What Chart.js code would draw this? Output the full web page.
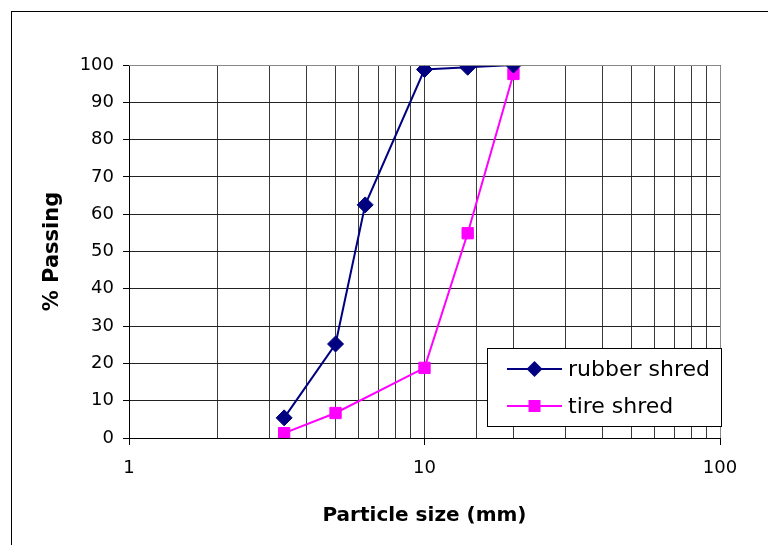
<!DOCTYPE html>
<html>
<head>
<meta charset="utf-8">
<script src="https://cdn.jsdelivr.net/npm/chart.js@4"></script>
<style>
  html, body { margin: 0; padding: 0; background: #fff; }
  #wrap { width: 768px; height: 545px; }
</style>
</head>
<body>
<div id="wrap"><canvas id="myChart" width="768" height="545"></canvas></div>
<script>
// sieve sizes (mm) and % passing
var rubberSize = [3.35, 5, 6.3, 10, 14, 20];
var rubberPassing = [5.4, 25.2, 62.5, 98.8, 99.4, 100];
var tireSize = [3.35, 5, 10, 14, 20];
var tirePassing = [1.3, 6.7, 18.8, 54.9, 97.6];
var xLabels = [1, 10, 100];
var yTicks = [0, 10, 20, 30, 40, 50, 60, 70, 80, 90, 100];

function toPoints(xs, ys) {
    var pts = [];
    for (var i = 0; i < xs.length; i++) pts.push({x: xs[i], y: ys[i]});
    return pts;
}

// outer frame of the chart sheet
var framePlugin = {
    id: 'frame',
    beforeDraw: function(chart) {
        var ctx = chart.ctx;
        ctx.save();
        ctx.fillStyle = '#fff';
        ctx.fillRect(0, 0, chart.width, chart.height);
        ctx.strokeStyle = '#000';
        ctx.lineWidth = 1;
        ctx.strokeRect(11.5, 11.5, chart.width + 20, chart.height + 20);
        ctx.restore();
    },
    afterDatasetsDraw: function(chart) {
        // gray border on top and right of the plot
        var a = chart.chartArea, ctx = chart.ctx;
        ctx.save();
        ctx.strokeStyle = '#888';
        ctx.lineWidth = 1;
        ctx.beginPath();
        ctx.moveTo(a.left, a.top + 0.5);
        ctx.lineTo(a.right + 0.5, a.top + 0.5);
        ctx.lineTo(a.right + 0.5, a.bottom);
        ctx.stroke();
        ctx.restore();
    }
};

// legend box in the lower right of the plot
var legendBox = {
    id: 'legendBox',
    afterDraw: function(chart) {
        var a = chart.chartArea, ctx = chart.ctx;
        var w = 234, h = 78;
        var x0 = a.right + 1 - w, y0 = a.bottom - 12 - h;
        ctx.save();
        ctx.fillStyle = '#fff';
        ctx.fillRect(x0, y0, w, h);
        ctx.strokeStyle = '#000';
        ctx.lineWidth = 1;
        ctx.strokeRect(Math.round(x0) + 0.5, Math.round(y0) + 0.5, w, h);
        ctx.font = '22px "DejaVu Sans"';
        ctx.textBaseline = 'middle';
        chart.data.datasets.forEach(function(ds, i) {
            var cy = y0 + 21 + i * 37;
            var lx = x0 + 20, rx = x0 + 75, mx = (lx + rx) / 2;
            ctx.strokeStyle = ds.borderColor;
            ctx.lineWidth = 2;
            ctx.beginPath();
            ctx.moveTo(lx, cy);
            ctx.lineTo(rx, cy);
            ctx.stroke();
            ctx.fillStyle = ds.backgroundColor;
            ctx.beginPath();
            if (ds.pointStyle === 'rectRot') {
                var r = 8;
                ctx.moveTo(mx, cy - r);
                ctx.lineTo(mx + r, cy);
                ctx.lineTo(mx, cy + r);
                ctx.lineTo(mx - r, cy);
                ctx.closePath();
            } else {
                ctx.rect(mx - 6, cy - 6, 12, 12);
            }
            ctx.fill();
            ctx.fillStyle = '#000';
            ctx.fillText(ds.label, x0 + 81, cy + 1);
        });
        ctx.restore();
    }
};

const ctx = document.getElementById('myChart');
const myChart = new Chart(ctx, {
    type: 'line',
    data: {
        datasets: [{
            label: 'rubber shred',
            data: toPoints(rubberSize, rubberPassing),
            borderColor: '#000080',
            backgroundColor: '#000080',
            borderWidth: 2,
            pointStyle: 'rectRot',
            pointRadius: 8,
            pointBorderWidth: 1,
            tension: 0
        }, {
            label: 'tire shred',
            data: toPoints(tireSize, tirePassing),
            borderColor: '#FF00FF',
            backgroundColor: '#FF00FF',
            borderWidth: 2,
            pointStyle: 'rect',
            pointRadius: 8,
            pointBorderWidth: 1,
            tension: 0
        }]
    },
    plugins: [framePlugin, legendBox],
    options: {
        responsive: false,
        animation: false,
        layout: { padding: { left: 30, top: 65, right: 48, bottom: 10 } },
        plugins: { legend: { display: false }, tooltip: { enabled: false } },
        scales: {
            x: {
                type: 'logarithmic',
                min: 1,
                max: 100,
                afterFit: function(scale) { scale.height = 97; },
                title: {
                    display: true,
                    text: 'Particle size (mm)',
                    color: '#000',
                    font: { family: 'DejaVu Sans', size: 20, weight: 'bold' },
                    padding: { top: 0, bottom: 7 }
                },
                ticks: {
                    autoSkip: false,
                    maxRotation: 0,
                    color: '#000',
                    padding: 13,
                    font: { family: 'DejaVu Sans', size: 18 },
                    callback: function(v) { return xLabels.indexOf(v) >= 0 ? String(v) : ''; }
                },
                grid: {
                    color: '#3a3a3a',
                    lineWidth: 1,
                    tickLength: 7,
                    tickColor: function(c) {
                        return c.tick && xLabels.indexOf(c.tick.value) >= 0 ? '#000' : 'rgba(0,0,0,0)';
                    }
                },
                border: { color: '#000', width: 1 }
            },
            y: {
                min: 0,
                max: 100,
                afterFit: function(scale) { scale.width = 99; },
                afterBuildTicks: function(scale) {
                    scale.ticks = yTicks.map(function(v) { return {value: v}; });
                },
                title: {
                    display: true,
                    text: '% Passing',
                    color: '#000',
                    font: { family: 'DejaVu Sans', size: 21, weight: 'bold' },
                    padding: { top: 10, bottom: 0 }
                },
                ticks: {
                    color: '#000',
                    padding: 9,
                    font: { family: 'DejaVu Sans', size: 18 }
                },
                grid: {
                    color: function(c) { return c.tick && c.tick.value === 100 ? '#888' : '#222'; },
                    lineWidth: 1,
                    tickLength: 6,
                    tickColor: '#000'
                },
                border: { color: '#000', width: 1 }
            }
        }
    }
});
</script>
</body>
</html>
